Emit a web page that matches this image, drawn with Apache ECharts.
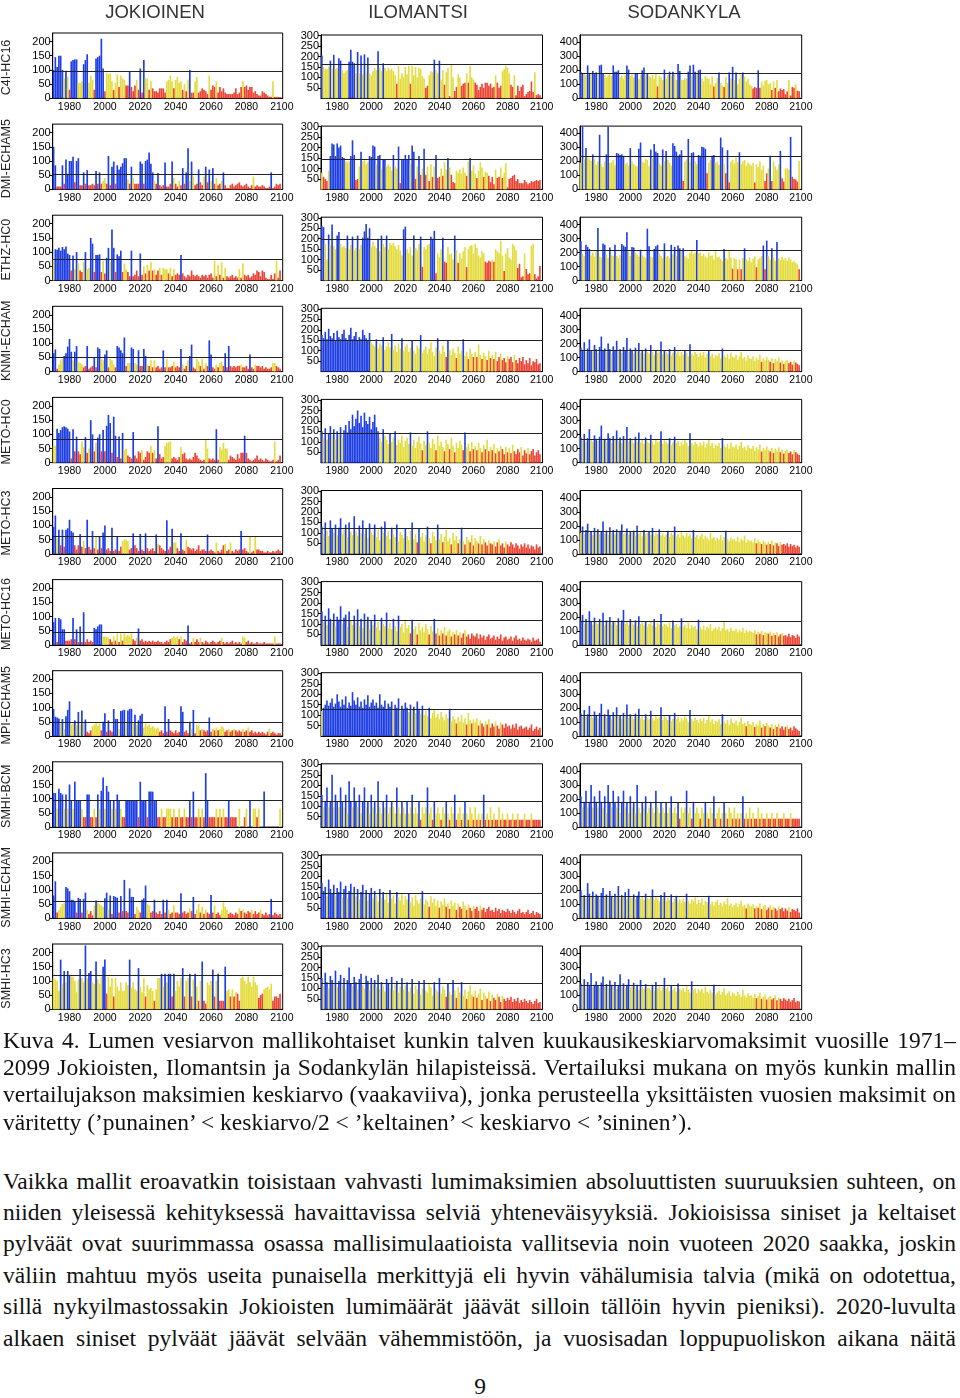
<!DOCTYPE html>
<html><head><meta charset="utf-8">
<script src="https://cdn.jsdelivr.net/npm/echarts@6/dist/echarts.min.js"></script>
<style>
html,body{margin:0;padding:0;background:#fff;width:960px;height:1398px;overflow:hidden}
#chart{position:absolute;left:0;top:0;width:960px;height:1030px}
.ln{position:absolute;left:3px;width:953px;height:26px;line-height:26px;overflow:hidden;font-family:"Liberation Serif","DejaVu Serif",serif;font-size:23.5px;color:#111;text-align:justify;text-align-last:justify}
.last{text-align:left;text-align-last:left}
.pg{position:absolute;left:0;width:960px;text-align:center;font-family:"Liberation Serif",serif;font-size:23.5px;color:#111;line-height:26px}
</style></head>
<body>
<div id="chart"></div>
<div class="ln" style="top:1027px">Kuva 4. Lumen vesiarvon mallikohtaiset kunkin talven kuukausikeskiarvomaksimit vuosille 1971–</div>
<div class="ln" style="top:1054px">2099 Jokioisten, Ilomantsin ja Sodankylän hilapisteissä. Vertailuksi mukana on myös kunkin mallin</div>
<div class="ln" style="top:1081px">vertailujakson maksimien keskiarvo (vaakaviiva), jonka perusteella yksittäisten vuosien maksimit on</div>
<div class="ln last" style="top:1109px">väritetty (’punainen’ &lt; keskiarvo/2 &lt; ’keltainen’ &lt; keskiarvo &lt; ’sininen’).</div>
<div class="ln" style="top:1168px">Vaikka mallit eroavatkin toisistaan vahvasti lumimaksimien absoluuttisten suuruuksien suhteen, on</div>
<div class="ln" style="top:1199px">niiden yleisessä kehityksessä havaittavissa selviä yhteneväisyyksiä. Jokioisissa siniset ja keltaiset</div>
<div class="ln" style="top:1230px">pylväät ovat suurimmassa osassa mallisimulaatioista vallitsevia noin vuoteen 2020 saakka, joskin</div>
<div class="ln" style="top:1262px">väliin mahtuu myös useita punaisella merkittyjä eli hyvin vähälumisia talvia (mikä on odotettua,</div>
<div class="ln" style="top:1293px">sillä nykyilmastossakin Jokioisten lumimäärät jäävät silloin tällöin hyvin pieniksi). 2020-luvulta</div>
<div class="ln" style="top:1325px">alkaen siniset pylväät jäävät selvään vähemmistöön, ja vuosisadan loppupuoliskon aikana näitä</div>
<div class="pg" style="top:1373px">9</div>
<script>
// ---------- DATA ----------
const stations = ['JOKIOINEN', 'ILOMANTSI', 'SODANKYLA'];
const models = ['C4I-HC16','DMI-ECHAM5','ETHZ-HC0','KNMI-ECHAM','METO-HC0','METO-HC3','METO-HC16','MPI-ECHAM5','SMHI-BCM','SMHI-ECHAM','SMHI-HC3'];
const xTickLabels = ['1980','2000','2020','2040','2060','2080','2100'];
const firstYear = 1971, lastCategoryYear = 2100;

// reference-period means (horizontal lines)
const jokMeans = [95, 53, 76, 50, 82, 61, 45, 50, 95, 58, 120];
const iloMeans = [163, 143, 197, 148, 140, 120, 120, 130, 125, 120, 125];
const sodMeans = [178, 236, 218, 150, 170, 160, 170, 150, 180, 160, 170];

// JOKIOINEN, values 1971..2099
const jok_C4I = [100,145,110,150,150,100,70,97,75,30, 130,135,137,137,55,55,60,120,135,155, 55,80,65,30,140,145,150,210,105,25, 90,85,88,60,30,55,85,40,80,70, 65,45,45,95,40,25,45,65,30,105, 20,135,70,70,30,60,35,25,25,20, 35,35,35,20,60,65,80,60,35,65, 75,55,60,30,50,25,65,100,20,20, 60,75,20,25,35,30,25,15,80,30, 45,40,60,20,40,25,35,20,15,15, 15,15,20,35,15,20,40,60,40,45, 30,40,40,20,25,15,10,10,25,20, 15,10,5,5,60,5,5,5,5];
const jok_DMI = [150,85,10,10,10,85,20,105,55,100, 100,115,25,100,110,15,15,60,20,68, 15,15,20,15,65,20,60,20,30,40, 20,118,15,80,98,20,85,70,80,92, 110,110,35,20,80,40,20,20,20,98, 90,20,100,105,130,90,60,30,20,58, 15,10,15,95,10,10,20,98,40,20, 10,30,15,75,20,60,145,30,98,45, 15,20,70,25,15,45,80,25,70,30, 75,20,40,15,20,30,60,15,5,5, 15,20,10,15,20,25,15,10,15,20, 10,5,15,45,10,15,10,10,15,10, 5,5,10,60,5,10,20,15,20];
const jok_ETHZ = [75,110,108,115,105,118,110,120,95,90, 35,88,40,100,60,35,30,65,100,40, 45,150,130,30,90,90,92,30,70,25, 80,115,65,180,115,30,92,85,105,30, 60,40,30,15,105,15,20,35,15,95, 20,50,25,55,35,65,35,40,20,35, 45,20,45,40,40,25,45,15,40,20, 25,20,90,25,15,10,20,15,35,20, 15,20,15,10,20,15,20,10,20,25, 10,70,15,55,20,65,10,45,15,10, 15,20,10,15,10,40,10,60,20,15, 20,10,15,25,20,35,30,15,35,30, 10,5,5,20,5,25,70,10,35];
const jok_KNMI = [65,78,10,25,40,45,55,65,88,115, 70,40,70,90,35,30,25,15,20,90, 10,15,20,50,15,85,80,45,40,60, 75,15,45,40,25,15,90,85,75,65, 120,20,30,30,85,80,30,25,75,20, 20,80,55,25,20,40,15,40,15,20, 10,15,75,15,45,15,15,20,35,15, 20,15,80,25,10,20,40,55,95,15, 10,45,35,20,45,10,30,20,110,60, 15,10,25,15,30,35,20,65,15,90, 20,15,20,15,20,20,25,15,15,20, 10,60,15,10,25,20,20,15,20,10, 15,10,10,15,30,30,20,15,10];
const jok_METO0 = [60,60,120,105,115,125,128,125,120,110, 15,118,40,92,40,30,75,55,90,35, 50,150,100,40,70,88,100,40,115,40, 130,168,140,35,162,95,20,92,15,105, 45,50,25,20,15,108,25,15,40,35, 45,10,20,40,35,60,35,45,15,128, 30,15,20,60,70,72,75,15,20,15, 10,20,55,30,35,15,10,15,10,20, 35,25,15,10,5,10,80,50,15,10, 15,10,118,10,55,45,70,50,50,10, 25,20,15,10,30,15,35,35,95,35, 15,10,5,10,15,25,10,15,10,5, 15,10,5,5,10,75,5,10,25];
const jok_METO3 = [95,135,55,85,30,85,25,85,90,120, 80,75,30,15,30,70,25,45,20,120, 25,15,80,20,60,15,62,20,75,100, 15,20,10,92,10,15,62,10,25,45, 50,50,45,15,20,72,30,20,10,70, 15,10,72,20,10,15,20,10,68,35, 30,20,15,10,118,15,25,88,40,40, 20,10,72,15,10,50,25,20,15,20, 10,15,30,10,15,15,10,68,10,15, 10,5,40,10,5,15,30,35,10,15, 40,10,5,15,10,15,80,15,20,10, 5,60,5,10,60,15,15,10,10,5, 5,10,5,5,10,5,10,15,10];
const jok_METO16 = [80,95,10,95,90,55,55,15,15,15, 20,95,20,55,10,65,10,115,10,20, 10,15,10,60,55,65,72,72,30,30, 28,25,20,10,30,15,40,10,40,15, 40,30,35,30,40,20,15,25,58,15, 20,10,15,10,15,10,15,10,10,15, 10,10,5,10,15,10,20,25,30,25, 30,20,30,10,20,15,68,5,10,25, 10,20,10,25,10,5,15,10,5,10, 15,10,5,10,15,25,10,5,10,5, 10,15,5,10,5,10,5,30,25,10, 15,5,10,5,5,10,5,5,5,10, 5,5,5,5,5,30,5,5,5];
const jok_MPI = [95,68,65,62,45,60,25,70,92,122, 40,45,55,40,85,40,90,45,58,15, 10,20,35,40,45,35,45,20,50,80, 15,55,20,15,95,60,60,25,88,90, 92,45,90,95,96,45,75,40,55,72, 78,30,45,35,40,30,35,30,25,30, 15,20,10,105,15,60,20,15,10,20, 10,15,105,85,15,20,10,50,25,92, 10,40,35,20,25,20,15,20,65,15, 25,20,30,20,25,35,30,15,20,25, 15,20,25,20,15,20,15,25,15,20, 30,15,20,10,15,10,15,10,15,10, 5,15,25,10,15,10,5,10,10];
const jok_BCM = [120,120,65,135,120,115,65,115,65,150, 95,65,160,95,95,95,65,35,35,115, 115,35,35,65,35,115,65,128,175,65, 145,125,95,65,95,65,115,95,65,35, 35,95,95,95,95,95,95,95,35,160, 95,95,95,35,125,125,125,95,95,35, 35,65,35,35,65,65,65,35,65,35, 35,65,35,35,65,35,35,95,35,125, 35,35,65,35,65,35,190,95,35,35, 35,35,65,35,65,35,65,35,35,95, 35,35,35,35,0,65,0,0,35,65, 0,95,0,65,65,35,65,0,0,125, 0,0,0,0,0,0,0,0,65];
const jok_SECH = [80,130,20,30,40,50,55,110,105,95, 65,65,60,20,72,68,20,68,90,30, 15,25,10,45,62,55,50,45,40,70, 90,30,80,15,78,75,72,20,78,25, 135,25,20,105,75,75,15,40,30,20, 65,70,115,50,45,20,25,65,20,15, 25,15,65,20,65,30,15,20,45,20, 20,15,88,20,25,15,20,35,25,75, 15,30,50,20,40,15,30,20,15,82, 20,45,15,20,10,30,55,40,30,15, 20,15,10,20,15,35,25,30,20,15, 25,20,30,15,25,15,20,30,15,10, 20,10,15,68,10,20,15,10,15];
const jok_SHC3 = [110,105,100,65,175,90,135,95,135,120, 115,115,100,60,105,142,110,95,225,110, 128,135,95,90,168,105,90,115,150,175, 55,115,80,110,45,110,80,65,95,65, 65,95,85,175,75,95,70,65,145,80, 60,110,45,85,70,75,65,30,70,110, 110,125,80,125,95,125,125,45,125,65, 100,80,110,145,45,100,110,125,45,105, 125,80,30,100,168,30,20,95,85,100, 140,45,100,125,30,30,30,150,65,70, 45,70,45,60,55,30,110,115,100,90, 115,95,80,115,95,85,40,50,55,70, 75,80,70,90,30,45,45,40,55];

// ILOMANTSI, values 1971..2099
const ilo_C4I = [205,150,140,140,150,180,140,208,140,145, 192,180,135,120,130,135,175,232,175,168, 120,222,120,205,115,210,125,195,120,110, 130,145,135,225,145,130,168,145,130,145, 135,140,130,110,70,155,95,120,100,150, 115,155,70,155,110,150,100,145,140,105, 95,50,60,110,130,125,185,135,120,180, 90,135,65,125,145,10,160,100,35,55, 115,100,60,70,75,120,75,155,100,90, 75,65,40,55,70,50,75,75,60,70, 50,55,110,75,50,60,130,140,155,145, 120,65,55,110,15,60,35,55,65,10, 20,30,35,80,30,125,15,20,15];
const ilo_DMI = [80,60,50,40,90,160,220,215,160,220, 200,210,155,150,135,130,135,160,235,165, 45,50,110,180,135,140,120,130,160,155, 210,205,120,160,165,100,145,145,110,120, 110,90,165,110,100,205,30,145,145,165, 145,165,120,210,180,50,110,160,70,100, 195,70,110,40,120,60,110,165,55,60, 100,65,130,95,150,105,70,35,30,90, 80,95,75,105,80,65,135,150,90,115, 75,55,90,130,105,60,85,80,65,35, 60,25,95,55,60,105,55,80,125,10, 50,55,65,70,40,50,30,30,30,45, 35,25,30,40,35,40,45,40,45];
const ilo_ETHZ = [262,255,175,100,220,170,268,165,150,215, 232,175,160,165,155,215,150,170,210,145, 155,215,150,170,205,235,270,205,250,160, 185,165,155,200,140,215,175,160,215,150, 180,170,180,165,150,170,145,120,245,258, 150,130,160,120,215,155,145,175,210,65, 160,150,170,175,210,200,238,35,130,110, 150,205,90,85,160,125,130,100,215,145, 85,130,105,140,160,65,150,165,170,130, 175,155,120,110,140,130,90,85,95,90, 100,90,150,140,130,190,120,45,130,155, 110,100,175,165,145,60,80,15,20,130, 55,30,35,165,175,30,10,20,70];
const ilo_KNMI = [175,160,190,155,205,170,160,185,150,195, 165,155,180,200,160,150,175,210,155,170, 190,150,165,155,200,175,160,150,185,140, 130,120,155,110,135,125,165,105,120,140, 115,180,105,125,95,135,110,160,100,120, 130,95,115,150,100,85,125,110,175,90, 105,120,85,110,140,95,75,115,160,100, 85,125,95,70,150,105,80,110,90,65, 120,85,100,155,75,95,60,110,85,70, 95,70,130,80,60,90,75,55,100,65, 80,60,95,50,70,85,55,65,45,75, 60,70,45,80,55,40,65,50,70,35, 55,40,65,30,50,45,60,35,40];
const ilo_METO0 = [150,120,165,110,140,175,130,160,110,150, 135,170,120,155,180,145,200,160,230,175, 210,250,190,225,170,240,200,185,220,160, 195,230,170,150,120,100,160,130,110,90, 140,100,120,150,85,110,95,130,75,105, 120,90,145,80,110,70,100,125,90,60, 105,85,150,95,70,115,90,60,130,80, 100,75,55,110,90,65,120,80,50,95, 70,105,85,60,145,75,90,55,100,65, 80,60,95,70,50,85,65,110,55,75, 60,90,45,70,55,80,65,40,75,50, 70,45,85,55,40,65,50,75,35,60, 45,70,40,55,65,35,50,60,40];
const ilo_METO3 = [130,95,150,110,85,160,120,100,140,90, 125,170,95,115,140,80,150,105,90,180, 110,85,135,100,160,95,120,75,145,105, 90,140,80,115,65,130,100,155,85,110, 70,125,95,80,140,60,105,90,75,120, 85,65,110,150,70,95,55,120,80,100, 60,90,130,75,50,105,85,65,140,70, 95,55,80,115,60,75,45,100,65,85, 50,70,125,60,45,80,65,55,90,40, 75,60,50,85,45,70,55,40,65,50, 45,60,35,55,70,40,50,30,60,45, 35,55,45,30,50,40,25,45,35,50, 30,45,25,40,35,20,45,30,35];
const ilo_METO16 = [160,110,140,95,175,125,105,150,90,135, 120,185,100,130,145,85,160,115,95,140, 105,170,90,125,80,150,110,135,75,120, 95,145,85,110,70,130,100,90,155,80, 105,75,125,90,65,140,85,100,60,115, 80,95,55,120,75,90,50,105,70,85, 60,100,75,50,90,65,125,55,80,45, 70,55,85,45,65,75,40,60,50,70, 45,60,35,55,70,40,50,30,55,45, 40,55,30,50,35,45,25,40,50,30, 35,45,25,40,30,50,20,35,40,25, 30,40,20,35,45,25,30,20,35,25, 20,30,25,15,35,20,25,30,15];
const ilo_MPI = [120,135,150,170,145,160,180,140,155,200, 165,140,175,150,190,135,160,145,210,170, 150,185,140,165,135,175,150,195,140,160, 175,145,160,135,200,150,140,170,130,155, 140,165,125,150,135,180,120,145,130,160, 135,115,150,125,140,110,165,130,105,145, 100,120,95,135,85,110,125,90,105,80, 115,90,75,105,85,130,70,95,80,60, 90,70,100,65,85,55,110,75,60,80, 65,85,50,75,60,45,70,55,80,40, 60,45,70,50,35,65,55,40,60,45, 50,35,55,40,60,30,45,50,35,40, 45,30,40,55,25,35,45,30,40];
const ilo_BCM = [155,95,125,190,95,125,250,95,155,125, 95,190,125,95,155,65,220,125,95,190, 125,95,155,65,125,190,95,125,65,155, 95,125,65,220,95,65,125,95,155,65, 95,125,95,65,190,95,65,125,95,65, 125,65,95,155,65,95,65,125,35,95, 65,95,190,65,95,35,125,65,95,65, 35,95,65,125,65,35,95,65,155,35, 65,95,35,65,125,65,35,95,65,35, 95,35,65,35,65,155,35,65,35,95, 35,65,35,35,95,35,65,35,35,65, 35,35,65,35,35,65,35,35,35,65, 35,35,35,65,35,35,35,35,35];
const ilo_SECH = [170,130,150,105,185,140,120,160,110,145, 125,175,100,140,155,95,130,165,115,150, 105,140,90,125,160,110,135,85,120,145, 95,130,110,80,140,100,125,90,115,75, 135,95,110,70,125,100,85,115,65,105, 90,120,75,100,60,110,85,70,95,130, 65,90,80,55,105,75,95,60,85,50, 80,65,95,55,70,45,85,60,75,40, 70,55,45,80,60,40,65,50,35,60, 45,55,35,60,40,50,30,45,55,35, 40,30,50,35,45,25,40,35,30,45, 35,25,40,30,20,35,45,25,30,20, 30,40,20,25,35,15,30,25,20];
const ilo_SHC3 = [150,110,175,130,100,160,140,120,185,105, 135,165,115,150,95,140,200,125,110,155, 130,95,145,170,115,100,160,135,90,150, 120,140,105,165,95,130,110,85,145,125, 100,155,90,120,135,80,110,150,95,115, 130,85,105,145,75,115,95,135,70,100, 140,90,80,120,105,65,130,95,85,150, 75,110,95,60,125,85,70,140,90,55, 105,80,130,65,95,50,85,115,70,60, 90,55,75,100,45,80,65,50,85,40, 70,55,45,75,60,35,65,50,40,55, 45,60,35,50,40,55,30,45,35,50, 40,30,45,35,25,40,50,30,35];

// SODANKYLA, values 1971..2099
const sod_C4I = [190,180,175,165,235,180,175,195,180,185, 175,235,240,180,165,150,165,170,160,235, 190,190,200,150,160,140,170,235,205,160, 170,150,180,180,140,165,200,220,165,180, 160,150,165,140,175,85,160,150,130,205, 140,165,190,160,190,170,130,245,195,130, 130,145,140,190,235,160,240,190,175,200, 205,140,120,160,145,140,100,155,85,110, 145,185,110,90,80,150,110,185,140,225, 130,185,100,140,170,185,155,120,140,100, 90,70,80,75,200,75,120,90,125,130, 100,110,60,120,75,130,50,70,60,65, 30,50,130,20,80,75,100,55,50];
const sod_DMI = [190,450,215,295,230,220,205,250,220,175, 200,390,180,160,200,250,450,190,195,210, 170,260,255,245,250,240,180,190,170,295, 200,180,170,165,290,335,200,190,220,210, 165,285,220,325,270,260,185,170,285,200, 275,210,190,170,330,310,270,240,250,280, 60,200,215,360,195,260,265,200,180,245, 240,305,300,290,115,190,210,240,245,190, 200,175,370,300,180,115,280,50,200,210, 185,230,195,265,180,200,210,170,190,180, 170,190,50,180,160,200,140,170,60,115, 150,240,60,200,165,140,180,275,80,55, 150,150,140,375,90,75,70,55,205];
const sod_ETHZ = [280,190,175,255,240,225,180,200,170,215, 375,170,165,265,255,185,160,235,180,175, 255,175,160,180,260,250,240,345,210,175, 240,235,200,185,170,220,180,170,160,370, 245,170,165,225,245,255,190,175,160,265, 170,175,160,255,185,240,175,250,230,215, 230,175,165,155,200,210,190,200,290,195, 200,175,190,170,160,200,175,180,150,210, 165,170,155,140,225,160,150,210,165,85, 160,150,80,150,80,160,230,150,140,165, 130,155,170,95,150,160,175,250,80,285, 175,150,230,165,140,275,160,145,170,150, 160,140,165,150,130,140,125,115,80];
const sod_KNMI = [170,150,210,140,165,230,155,145,190,160, 135,175,250,150,165,140,200,160,130,180, 155,220,145,160,135,175,150,240,140,165, 150,130,170,145,205,135,155,125,165,140, 130,190,140,120,155,135,145,215,125,150, 140,125,160,115,135,175,130,145,110,140, 120,150,135,110,195,130,115,140,125,105, 135,115,140,100,125,155,110,130,95,120, 110,130,95,165,115,100,125,90,135,105, 100,120,85,110,140,95,105,80,115,95, 90,110,75,100,85,120,70,95,80,105, 85,70,95,60,90,75,100,65,80,55, 75,85,60,70,50,80,65,55,45];
const sod_METO0 = [180,160,205,150,175,240,165,150,195,170, 155,185,265,160,170,145,210,175,140,190, 165,230,150,180,140,190,160,255,150,175, 160,140,185,150,215,145,165,135,180,150, 140,200,150,130,165,145,155,225,135,160, 150,135,175,125,145,185,140,155,120,150, 130,160,145,120,210,140,125,150,135,115, 145,125,150,110,135,165,120,140,105,130, 120,140,105,175,125,110,135,100,145,115, 110,130,95,120,150,105,115,90,125,105, 100,120,85,110,95,130,80,105,90,115, 95,80,105,70,100,85,110,75,90,65, 85,95,70,80,60,90,75,65,55];
const sod_METO3 = [150,195,140,170,215,150,160,135,185,155, 175,140,160,230,145,165,135,190,150,170, 140,175,155,165,210,140,150,180,135,160, 150,165,130,200,145,155,125,170,140,150, 160,135,185,125,150,140,175,130,145,120, 140,165,120,150,135,195,125,140,115,155, 130,115,150,125,140,110,170,120,135,105, 125,145,105,130,115,100,150,110,120,95, 115,100,135,95,120,165,105,90,115,100, 105,90,120,85,110,95,130,80,100,90, 95,80,110,75,100,85,70,95,80,65, 85,70,95,60,80,75,55,85,65,70, 60,75,50,70,55,65,45,60,50];
const sod_METO16 = [175,215,150,185,160,240,170,145,195,165, 150,185,165,230,140,175,160,200,145,170, 165,140,190,155,175,250,150,165,140,185, 160,145,175,135,205,150,160,140,170,130, 150,165,140,185,130,155,145,220,135,150, 145,130,160,120,175,140,150,125,135,190, 130,145,120,160,115,140,125,135,110,180, 125,110,140,105,130,120,150,100,115,125, 110,130,100,120,165,105,115,95,125,100, 100,115,90,110,95,120,85,105,90,100, 95,85,105,75,95,80,100,70,90,85, 80,95,65,85,70,90,60,75,85,65, 70,60,80,55,70,65,50,75,60];
const sod_MPI = [160,140,185,135,155,215,145,130,175,150, 125,165,230,140,155,130,190,150,120,170, 145,205,135,150,125,165,140,225,130,155, 140,120,160,135,195,125,145,115,155,130, 120,180,130,110,145,125,135,205,115,140, 130,115,150,105,125,165,120,135,100,130, 110,140,125,100,185,120,105,130,115,95, 125,105,130,90,115,145,100,120,85,110, 100,120,85,155,105,90,115,80,125,95, 90,110,75,100,130,85,95,70,105,85, 80,100,65,90,75,110,60,85,70,95, 75,60,85,50,80,65,90,55,70,45, 65,75,50,60,40,70,55,45,35];
const sod_BCM = [220,140,180,260,140,180,300,140,220,180, 140,260,180,140,220,100,300,180,140,260, 180,140,220,100,180,260,140,180,100,220, 140,180,100,300,140,100,180,140,220,100, 140,180,140,100,260,140,100,180,140,100, 180,100,140,220,100,140,100,180,60,140, 100,140,260,100,140,60,180,100,140,100, 60,140,100,180,100,60,140,100,220,60, 100,140,60,100,180,100,60,140,100,60, 140,60,100,60,100,220,60,100,60,140, 60,100,60,60,140,60,100,60,60,100, 60,60,100,60,60,100,60,60,60,100, 60,60,60,100,60,60,60,60,60];
const sod_SECH = [200,150,165,140,250,175,155,190,145,170, 160,135,180,215,150,170,145,195,160,140, 175,150,230,140,165,155,185,135,210,150, 145,170,135,160,190,140,155,130,175,145, 135,155,205,130,150,140,120,165,135,185, 125,145,130,170,115,140,160,120,135,110, 140,115,175,125,105,135,120,150,100,130, 110,140,95,125,115,160,100,120,90,115, 130,95,110,85,120,100,145,90,105,80, 95,110,80,100,125,85,95,70,105,90, 85,100,70,90,75,105,65,85,95,60, 75,90,60,80,70,55,85,65,75,50, 70,55,80,45,65,60,50,70,40];
const sod_SHC3 = [185,165,215,150,195,170,260,160,175,200, 170,155,190,235,160,180,150,205,175,160, 195,145,170,250,160,185,150,175,215,155, 165,190,150,175,140,210,160,145,180,150, 155,140,175,130,195,150,165,135,160,225, 145,160,130,170,140,155,125,185,145,135, 150,125,165,140,120,200,135,150,115,145, 130,145,115,160,125,110,140,120,175,105, 120,135,105,125,150,100,115,130,95,120, 110,95,125,105,90,140,100,85,115,95, 100,85,110,80,95,120,75,90,105,70, 85,95,70,80,100,65,85,75,60,80, 70,60,75,55,65,80,50,60,55];

const jokData = [jok_C4I, jok_DMI, jok_ETHZ, jok_KNMI, jok_METO0, jok_METO3, jok_METO16, jok_MPI, jok_BCM, jok_SECH, jok_SHC3];
const iloData = [ilo_C4I, ilo_DMI, ilo_ETHZ, ilo_KNMI, ilo_METO0, ilo_METO3, ilo_METO16, ilo_MPI, ilo_BCM, ilo_SECH, ilo_SHC3];
const sodData = [sod_C4I, sod_DMI, sod_ETHZ, sod_KNMI, sod_METO0, sod_METO3, sod_METO16, sod_MPI, sod_BCM, sod_SECH, sod_SHC3];

// ---------- LAYOUT / STYLE ----------
const BLUE = '#1f3fe4', YELLOW = '#e4dc3e', RED = '#ec4434';
const colLeft = [52.7, 321, 580], colW = [230, 221.5, 221.7], colTop = [33, 35, 35];
const yMax = [230, 303, 452], yInt = [50, 50, 100];
const BOTTOM = 98.3, STEP = 91.1;
const titleX = [155, 418, 684];
const allData = [jokData, iloData, sodData];
const allMeans = [jokMeans, iloMeans, sodMeans];
const FONT = '"Liberation Sans", Arial, sans-serif';

const cats = [];
for (let y = firstYear; y <= lastCategoryYear; y++) cats.push(String(y));

const grids = [], xAxes = [], yAxes = [], series = [], graphics = [];
for (let r = 0; r < models.length; r++) {
  for (let c = 0; c < 3; c++) {
    const idx = grids.length;
    const top = colTop[c] + STEP * r;
    grids.push({left: colLeft[c], top: top, width: colW[c], height: BOTTOM - colTop[c],
      show: true, borderColor: '#000', borderWidth: 1, backgroundColor: '#fff'});
    xAxes.push({type: 'category', gridIndex: idx, data: cats, boundaryGap: true,
      axisLine: {show: true, lineStyle: {color: '#000', width: 1}},
      axisTick: {show: false},
      axisLabel: {interval: (i, v) => xTickLabels.indexOf(v) >= 0, fontSize: 10.5, color: '#000', margin: 3, fontFamily: FONT}});
    yAxes.push({type: 'value', gridIndex: idx, min: 0, max: yMax[c], interval: yInt[c],
      axisLine: {show: true, lineStyle: {color: '#000', width: 1}},
      axisTick: {show: true, length: 3, lineStyle: {color: '#000'}},
      axisLabel: {showMaxLabel: false, fontSize: 11, color: '#000', margin: 2, fontFamily: FONT},
      splitLine: {show: false}});
    const m = allMeans[c][r];
    series.push({type: 'bar', xAxisIndex: idx, yAxisIndex: idx, data: allData[c][r], barCategoryGap: '5%',
      itemStyle: {color: p => (p.value >= m ? BLUE : (p.value >= m / 2 ? YELLOW : RED))},
      markLine: {silent: true, symbol: 'none', animation: false,
        label: {show: false}, lineStyle: {color: '#222', width: 1, type: 'solid'},
        data: [{yAxis: m}]}});
  }
  graphics.push({type: 'text', x: 7, y: 67.5 + STEP * r, rotation: Math.PI / 2,
    style: {text: models[r], fill: '#222', font: '12.5px ' + FONT,
      textAlign: 'center', textVerticalAlign: 'middle'}});
}
for (let c = 0; c < 3; c++) {
  graphics.push({type: 'text', x: titleX[c], y: 12.5,
    style: {text: stations[c], fill: '#333', font: '18.5px ' + FONT,
      textAlign: 'center', textVerticalAlign: 'middle'}});
}

const chart = echarts.init(document.getElementById('chart'));
chart.setOption({animation: false, grid: grids, xAxis: xAxes, yAxis: yAxes, series: series, graphic: graphics});
</script>
</body></html>
